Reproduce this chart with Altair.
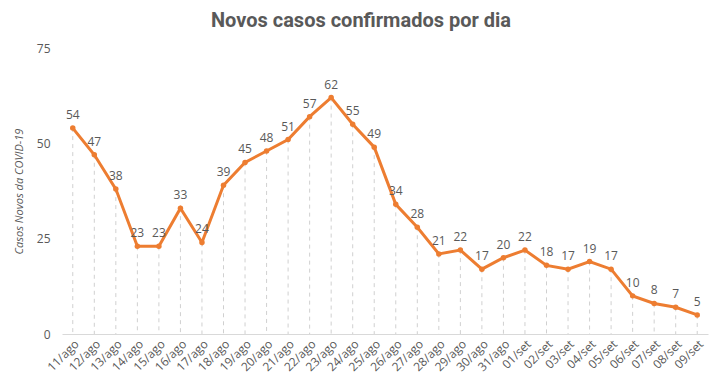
import altair as alt
import pandas as pd

dates = ["11/ago", "12/ago", "13/ago", "14/ago", "15/ago", "16/ago", "17/ago", "18/ago",
         "19/ago", "20/ago", "21/ago", "22/ago", "23/ago", "24/ago", "25/ago", "26/ago",
         "27/ago", "28/ago", "29/ago", "30/ago", "31/ago", "01/set", "02/set", "03/set",
         "04/set", "05/set", "06/set", "07/set", "08/set", "09/set"]
cases = [54, 47, 38, 23, 23, 33, 24, 39, 45, 48, 51, 57, 62, 55, 49, 34, 28, 21, 22, 17,
         20, 22, 18, 17, 19, 17, 10, 8, 7, 5]
y_ticks = [0, 25, 50, 75]

df = pd.DataFrame({"dia": dates, "casos": cases})

ORANGE = "#ED7D31"
GRAY = "#595959"

x = alt.X("dia:N", sort=dates, scale=alt.Scale(type="point", padding=0.5),
          axis=alt.Axis(title=None, labelAngle=-45, labelFontSize=12, labelColor=GRAY,
                        labelFont="Open Sans", ticks=False, domainColor="#D9D9D9",
                        labelPadding=4, grid=False))
y = alt.Y("casos:Q", scale=alt.Scale(domain=[0, 75], nice=False),
          axis=alt.Axis(values=y_ticks, title="Casos Novos da COVID-19", grid=False,
                        domain=False, ticks=False, labelFontSize=12, labelColor=GRAY,
                        labelFont="Open Sans", labelPadding=12,
                        titleFont="Open Sans", titleFontStyle="italic",
                        titleFontWeight="normal", titleFontSize=11, titleColor=GRAY,
                        titlePadding=12))

base = alt.Chart(df)

drops = base.mark_rule(color="#D0D0D0", strokeDash=[4, 4], strokeWidth=1).encode(
    x=x, y=y, y2=alt.datum(0))
line = base.mark_line(color=ORANGE, strokeWidth=3).encode(x=x, y=y)
pts = base.mark_point(color=ORANGE, filled=True, size=30, opacity=1).encode(x=x, y=y)
labels = base.mark_text(dy=-13, fontSize=12, color=GRAY, font="Open Sans").encode(
    x=x, y=y, text="casos:Q")

chart = alt.layer(drops, line, pts, labels).properties(
    width=646, height=286,
    autosize=alt.AutoSizeParams(type="none"),
    padding={"left": 54, "top": 40, "right": 5, "bottom": 44},
    title=alt.TitleParams("Novos casos confirmados por dia", fontSize=20,
                          font="Roboto", fontWeight="bold", color=GRAY,
                          anchor="middle", offset=11, dx=-24),
).configure_view(stroke=None)

chart.save("out.html", embed_options={"renderer": "svg", "actions": False})
